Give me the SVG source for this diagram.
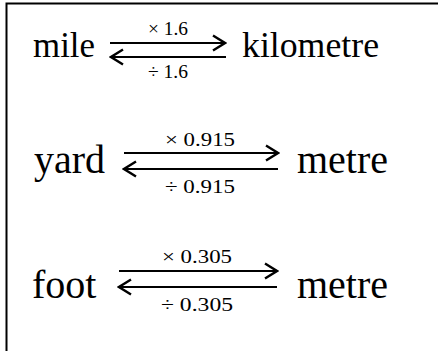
<svg xmlns="http://www.w3.org/2000/svg" width="438" height="351" viewBox="0 0 438 351">
<style>
.big{font-family:"Liberation Serif","Times New Roman",serif;fill:#000}
.r1{font-size:35px}
.r2{font-size:40px}
.lbl{font-family:"Liberation Serif","Times New Roman",serif;fill:#000}
.l1{font-size:18px}
.l2{font-size:19px}
.ln{stroke:#000;stroke-width:2;fill:none}
</style>
<defs>
<marker id="head" viewBox="0 0 16 18" refX="14" refY="9" markerWidth="16" markerHeight="18" markerUnits="userSpaceOnUse" orient="auto-start-reverse">
<path d="M2,1.5 L14,9 L2,16.5" fill="none" stroke="#000" stroke-width="2.4"/>
</marker>
</defs>
<rect width="438" height="351" fill="#fff"/>
<path d="M6.5,351 V3.5 H438" fill="none" stroke="#000" stroke-width="2"/>
<g id="mile"><text class="big r1" x="33" y="57" textLength="62" lengthAdjust="spacingAndGlyphs">mile</text></g>
<g id="kilometre"><text class="big r1" x="242" y="57" textLength="137" lengthAdjust="spacingAndGlyphs">kilometre</text></g>
<g id="yard"><text class="big r2" x="34" y="173">yard</text></g>
<g id="metre1"><text class="big r2" x="297" y="173">metre</text></g>
<g id="foot"><text class="big r2" x="32" y="298">foot</text></g>
<g id="metre2"><text class="big r2" x="297" y="298">metre</text></g>
<g id="connectors">
<line class="ln" x1="110" y1="43" x2="225" y2="43" marker-end="url(#head)"/>
<line class="ln" x1="226" y1="57" x2="111" y2="57" marker-end="url(#head)"/>
<text class="lbl l1" x="148" y="35" textLength="40" lengthAdjust="spacingAndGlyphs">× 1.6</text>
<text class="lbl l1" x="148" y="78" textLength="40" lengthAdjust="spacingAndGlyphs">÷ 1.6</text>
<line class="ln" x1="124" y1="153" x2="278" y2="153" marker-end="url(#head)"/>
<line class="ln" x1="278" y1="169" x2="124" y2="169" marker-end="url(#head)"/>
<text class="lbl l2" x="165" y="146" textLength="70" lengthAdjust="spacingAndGlyphs">× 0.915</text>
<text class="lbl l2" x="165" y="193" textLength="70" lengthAdjust="spacingAndGlyphs">÷ 0.915</text>
<line class="ln" x1="119" y1="271" x2="277" y2="271" marker-end="url(#head)"/>
<line class="ln" x1="277" y1="287" x2="119" y2="287" marker-end="url(#head)"/>
<text class="lbl l2" x="162" y="263" textLength="70" lengthAdjust="spacingAndGlyphs">× 0.305</text>
<text class="lbl l2" x="161" y="311" textLength="72" lengthAdjust="spacingAndGlyphs">÷ 0.305</text>
</g>
</svg>
